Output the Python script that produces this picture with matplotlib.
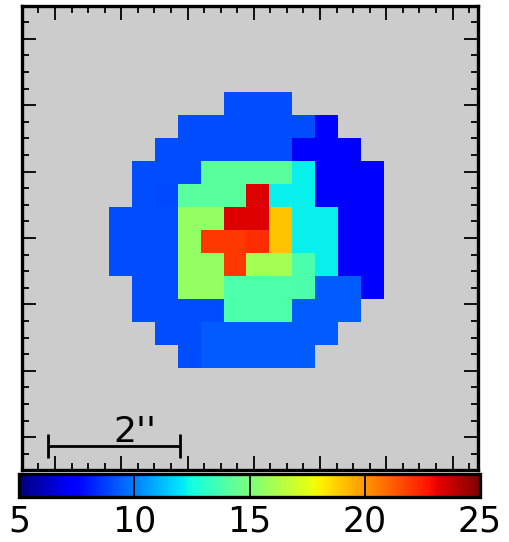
import numpy as np
import matplotlib
matplotlib.use("Agg")
import matplotlib.pyplot as plt
from matplotlib.ticker import MultipleLocator

# pixel map values (NaN = no data), rows top -> bottom
n = np.nan
vmap = [
    [n, n, n, n, n, 9.05, 9.05, 9.05, n, n, n, n],
    [n, n, n, 9.05, 9.05, 9.05, 9.05, 9.05, 9.05, 7.3, n, n],
    [n, n, 9.05, 9.05, 9.05, 9.05, 9.05, 9.05, 7.3, 7.3, 7.3, n],
    [n, 9.05, 9.05, 9.05, 14.2, 14.2, 14.2, 14.2, 12.2, 7.3, 7.3, 7.3],
    [n, 9.0, 8.95, 14.2, 14.2, 14.2, 23.3, 12.2, 12.2, 7.3, 7.3, 7.3],
    [9.05, 9.05, 9.05, 15.6, 15.6, 23.3, 23.3, 19.0, 12.2, 12.2, 7.3, 7.3],
    [9.05, 9.05, 9.05, 15.6, 22.0, 22.0, 22.2, 19.0, 12.2, 12.2, 7.3, 7.3],
    [9.05, 9.05, 9.05, 15.6, 15.6, 22.0, 16.0, 16.0, 13.9, 12.2, 7.3, 7.3],
    [n, 9.05, 9.05, 15.6, 15.6, 13.9, 13.9, 13.9, 13.9, 9.3, 9.3, 7.3],
    [n, 9.05, 9.05, 9.05, 9.05, 13.9, 13.9, 13.9, 9.3, 9.3, 9.3, n],
    [n, n, 9.05, 9.05, 9.3, 9.3, 9.3, 9.3, 9.3, 9.3, n, n],
    [n, n, n, 9.05, 9.3, 9.3, 9.3, 9.3, 9.3, n, n, n],
]
vmin, vmax = 5, 25
cbar_ticks = [5, 10, 15, 20, 25]
pix = 0.3457            # arcsec per pixel
x_first, y_top = 0.8145, 5.191   # corner of the map in arcsec
scale_len = 2           # arcsec

W, H = 509, 542
fig = plt.figure(figsize=(W / 100, H / 100), dpi=100)
ax = fig.add_axes([22.3 / W, 1 - 470.3 / H, (477.8 - 22.3) / W, (470.3 - 5.7) / H])
ax.set_facecolor("#cccccc")

data = np.ma.masked_invalid(np.array(vmap, float))
nr, nc = data.shape
im = ax.imshow(data, cmap="jet", vmin=vmin, vmax=vmax, interpolation="nearest",
               origin="upper", aspect="auto",
               extent=[x_first, x_first + nc * pix, y_top - nr * pix, y_top])
ax.set_xlim(-0.493, 6.38)
ax.set_ylim(-0.5, 6.5)

ax.xaxis.set_major_locator(MultipleLocator(1))
ax.yaxis.set_major_locator(MultipleLocator(1))
ax.xaxis.set_minor_locator(MultipleLocator(0.25))
ax.yaxis.set_minor_locator(MultipleLocator(0.25))
ax.tick_params(which="both", direction="in", top=True, right=True,
               labelbottom=False, labelleft=False, color="k")
ax.tick_params(which="major", length=10, width=1.3)
ax.tick_params(which="minor", length=5, width=1.3)
for s in ax.spines.values():
    s.set_linewidth(2.4)

# scale bar
x0, yb, cap = -0.11, -0.133, 0.18
ax.plot([x0, x0 + scale_len], [yb, yb], color="k", lw=2.0, solid_capstyle="butt")
for xc in (x0, x0 + scale_len):
    ax.plot([xc, xc], [yb - cap, yb + cap], color="k", lw=2.0, solid_capstyle="butt")
ax.text(x0 + scale_len / 2 - 0.01, -0.073, "2''", fontsize=26, ha="left", va="baseline")

# colourbar
cax = fig.add_axes([19 / W, 1 - 497.3 / H, (480 - 19) / W, 23 / H])
cb = fig.colorbar(im, cax=cax, orientation="horizontal", ticks=cbar_ticks)
cb.outline.set_linewidth(2.4)
cax.tick_params(length=0, pad=5, labelsize=25)
for t in cbar_ticks[1:-1]:
    cax.axvline(t, color="k", lw=1.3)

fig.savefig("out.png", dpi=100)
